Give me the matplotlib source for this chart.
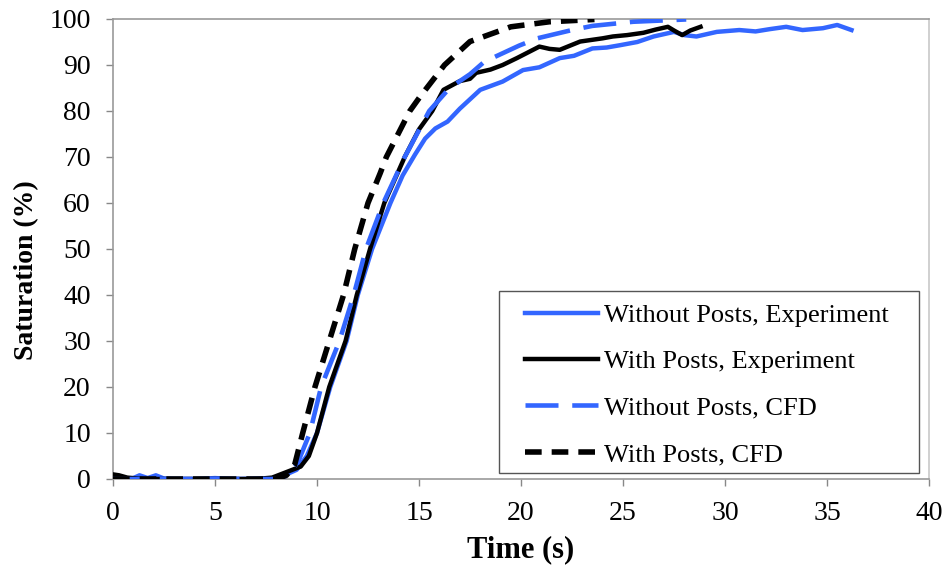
import matplotlib
matplotlib.use("Agg")
import matplotlib.pyplot as plt
from matplotlib.patches import Rectangle

plt.rcParams['font.family'] = ['Liberation Serif', 'DejaVu Serif']

# Without Posts, Experiment
t_wo_exp = [0, 0.5, 1.0, 1.3, 1.7, 2.1, 2.5, 3, 4, 5, 6, 7, 7.5, 8, 8.5, 9, 9.5, 10,
            10.65, 11.45, 12.0, 12.7, 13.6, 14.2, 14.8, 15.3, 15.8, 16.4, 17.0, 18.0,
            19.1, 20.1, 20.9, 21.9, 22.6, 23.5, 24.2, 24.85, 25.7, 26.5, 27.5, 28.0,
            28.6, 29.6, 30.7, 31.5, 32.2, 33.0, 33.8, 34.8, 35.5, 36.2]
s_wo_exp = [0.3, 0, 0.2, 0.8, 0.2, 0.8, 0.1, 0, 0, 0.2, 0, 0.1, 0, 0.3, 1.0, 2.0, 5, 10,
            20, 30, 40, 50, 60, 66, 70.5, 74, 76.2, 77.7, 80.5, 84.6,
            86.4, 88.9, 89.5, 91.5, 92.0, 93.6, 93.8, 94.3, 95.0, 96.2, 97.2, 96.5,
            96.2, 97.2, 97.6, 97.3, 97.8, 98.3, 97.6, 98.0, 98.7, 97.6]

# With Posts, Experiment
t_w_exp = [0, 0.3, 0.7, 1.5, 3, 5, 7, 7.8, 8.5, 9.2, 9.6, 10.0, 10.6, 11.4, 11.95,
           12.6, 13.3, 14.3, 15.0, 15.65, 16.2, 17.0, 17.5, 17.8, 18.5, 19.1, 19.8,
           20.9, 21.4, 21.9, 22.9, 24.0, 24.5, 25.2, 26.0, 26.6, 27.2, 27.5, 27.9,
           28.3, 28.8]
s_w_exp = [1.0, 0.8, 0.3, 0, 0, 0, 0, 0.3, 1.5, 2.7, 5, 10, 20, 30, 40,
           50, 60, 70, 76, 80, 84.6, 86.5, 87.0, 88.3, 89.0, 90.0, 91.5,
           94.0, 93.5, 93.3, 95.1, 95.8, 96.2, 96.5, 97.0, 97.7, 98.3, 97.5, 96.5,
           97.5, 98.3]

# Without Posts, CFD
t_wo_cfd = [0, 8.0, 8.6, 9.1, 9.65, 10.2, 11.1, 11.8, 12.4, 13.25, 14.3, 15.5, 16.5,
            17.5, 18.2, 19.9, 20.8, 22.5, 23.5, 25.5, 28.1]
s_wo_cfd = [0, 0, 0.8, 4, 10, 20, 30, 40, 50, 60, 70, 80, 85,
            88, 90.7, 94.2, 95.8, 97.6, 98.5, 99.4, 99.9]

# With Posts, CFD
t_w_cfd = [0, 8.0, 8.5, 8.9, 9.3, 9.9, 10.6, 11.3, 11.85, 12.5, 13.1, 13.4, 14.55,
           15.05, 16.25, 17.5, 19.5, 21.4, 23.6]
s_w_cfd = [0, 0, 0.8, 3, 10, 20, 30, 40, 50, 60, 66.5, 70, 80,
           83.1, 90.0, 95.1, 98.3, 99.4, 99.9]

labels = ["Without Posts, Experiment", "With Posts, Experiment",
          "Without Posts, CFD", "With Posts, CFD"]
x_ticks = [0, 5, 10, 15, 20, 25, 30, 35, 40]
y_ticks = [0, 10, 20, 30, 40, 50, 60, 70, 80, 90, 100]

BLUE = '#3366ff'

fig = plt.figure(figsize=(9.46, 5.69), dpi=100)
fig.subplots_adjust(left=113/946, right=929/946, bottom=1-479/569, top=1-19/569)
ax = fig.add_subplot(111)

ax.plot(t_wo_exp, s_wo_exp, color=BLUE, lw=3.2, solid_joinstyle='round',
        label=labels[0], zorder=3)
ax.plot(t_w_exp, s_w_exp, color='black', lw=3.2, solid_joinstyle='round',
        label=labels[1], zorder=4)
ax.plot(t_wo_cfd, s_wo_cfd, color=BLUE, lw=3.3, linestyle=(0, (7.2, 3.0)),
        label=labels[2], zorder=5)
ax.plot(t_w_cfd, s_w_cfd, color='black', lw=4.0, linestyle=(0, (3.0, 1.8)),
        label=labels[3], zorder=6)

ax.set_xlim(0, 40)
ax.set_ylim(0, 100)
ax.set_xticks(x_ticks)
ax.set_yticks(y_ticks)
ax.tick_params(axis='both', direction='out', length=5, width=1, color='#888888',
               labelsize=20, pad=11)

for side in ['left', 'bottom', 'top']:
    ax.spines[side].set_color('#999999')
    ax.spines[side].set_linewidth(1.2)
ax.spines['right'].set_color('#c8c8c8')
ax.spines['right'].set_linewidth(1.2)

ax.set_xlabel("Time (s)", fontsize=22, fontweight='bold')
ax.set_ylabel("Saturation (%)", fontsize=20, fontweight='bold')
ax.xaxis.set_label_coords(0.5, -0.122)
ax.yaxis.set_label_coords(-0.091, 0.455)

# legend box drawn separately so the padding can differ by direction
ax.add_patch(Rectangle((0.473, 0.013), 0.515, 0.396, transform=ax.transAxes,
                       facecolor='white', edgecolor='#555555', lw=1.0, zorder=7))
leg = ax.legend(loc='upper left', bbox_to_anchor=(0.505, 0.382),
                fontsize=19, frameon=False, handlelength=2.75, handletextpad=0.25,
                borderpad=0, labelspacing=0.87, borderaxespad=0)
leg.set_zorder(8)

fig.savefig('out.png', dpi=100)
